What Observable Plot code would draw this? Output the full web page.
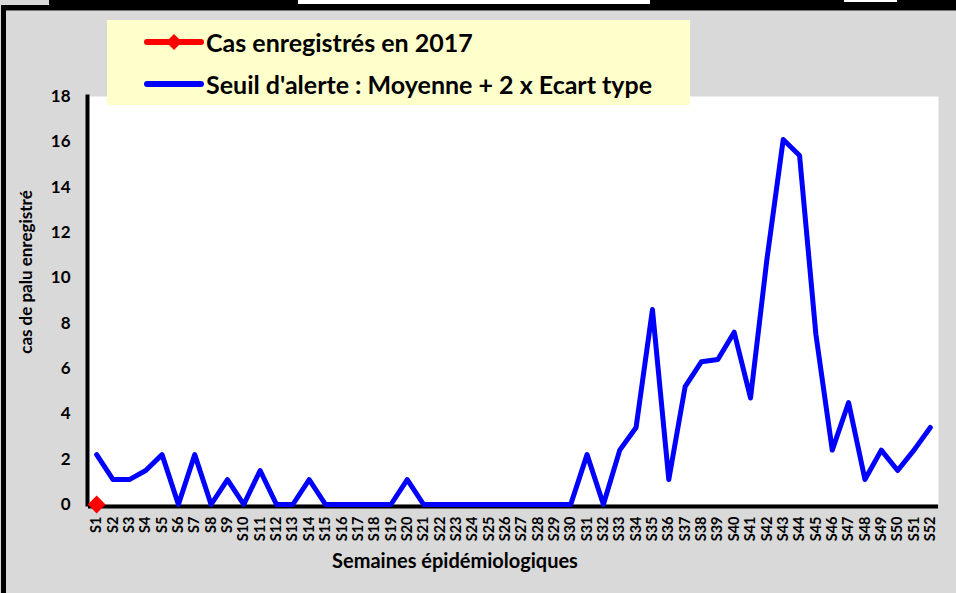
<!DOCTYPE html>
<html>
<head>
<meta charset="utf-8">
<script src="https://cdn.jsdelivr.net/npm/d3@7"></script>
<script src="https://cdn.jsdelivr.net/npm/@observablehq/plot@0.6"></script>
<style>
  html, body { margin: 0; padding: 0; background: #ffffff; }
  #wrap { position: relative; width: 956px; height: 593px; background: #d9d9d9; overflow: hidden; font-family: Lato, "Open Sans", sans-serif; }
  .deco { position: absolute; }
  #chart { position: absolute; left: 0; top: 0; }
  #chart svg { background: transparent; }
  #legend { position: absolute; left: 107px; top: 20px; width: 583px; height: 85px; background: #ffffcc; }
  .leg-item { position: absolute; left: 36px; display: flex; align-items: center; font-weight: bold; font-size: 25px; color: #000; white-space: nowrap; }
  .leg-item svg { margin-right: 1px; }
  #ylabel { position: absolute; left: 25px; top: 272px; transform: translate(-50%, -50%) rotate(-90deg); font-weight: bold; font-size: 17px; white-space: nowrap; color: #000; }
  #xlabel { position: absolute; left: 455px; top: 560px; transform: translate(-50%, -50%); font-weight: bold; font-size: 20px; white-space: nowrap; color: #000; }
</style>
</head>
<body>
<div id="wrap">
  <div class="deco" style="left:49px;top:0;width:907px;height:10px;background:#000;"></div>
  <div class="deco" style="left:1px;top:5px;width:48px;height:5px;background:#000;"></div>
  <div class="deco" style="left:298px;top:0;width:352px;height:4px;background:#fff;"></div>
  <div class="deco" style="left:844px;top:0;width:53px;height:2px;background:#fff;"></div>
  <div class="deco" style="left:6px;top:10px;width:950px;height:1px;background:#777;"></div>
  <div class="deco" style="left:1px;top:5px;width:5px;height:588px;background:#000;"></div>
  <div id="chart"></div>
  <div id="legend">
    <div class="leg-item" style="top:6px;height:32px;">
      <svg width="62" height="20"><line x1="4" y1="10" x2="58" y2="10" stroke="#ff0000" stroke-width="6" stroke-linecap="round"/><path d="M31,2 L39,10 L31,18 L23,10 Z" fill="#ff0000"/></svg>
      <span>Cas enregistrés en 2017</span>
    </div>
    <div class="leg-item" style="top:48px;height:32px;">
      <svg width="62" height="20"><line x1="4" y1="10" x2="58" y2="10" stroke="#0000ff" stroke-width="6" stroke-linecap="round"/></svg>
      <span>Seuil d'alerte : Moyenne + 2 x Ecart type</span>
    </div>
  </div>
  <div id="ylabel">cas de palu enregistré</div>
  <div id="xlabel">Semaines épidémiologiques</div>
</div>
<script>
const weeks = ["S1","S2","S3","S4","S5","S6","S7","S8","S9","S10","S11","S12","S13","S14","S15","S16","S17","S18","S19","S20","S21","S22","S23","S24","S25","S26","S27","S28","S29","S30","S31","S32","S33","S34","S35","S36","S37","S38","S39","S40","S41","S42","S43","S44","S45","S46","S47","S48","S49","S50","S51","S52"];
const seuilAlerte = [2.2,1.1,1.1,1.5,2.2,0,2.2,0,1.1,0,1.5,0,0,1.1,0,0,0,0,0,1.1,0,0,0,0,0,0,0,0,0,0,2.2,0,2.4,3.4,8.6,1.1,5.2,6.3,6.4,7.6,4.7,10.8,16.1,15.4,7.5,2.4,4.5,1.1,2.4,1.5,2.4,3.4];
const casWeeks = ["S1"];
const cas2017 = [0];
const yTicks = [0,2,4,6,8,10,12,14,16,18];

const seuilData = weeks.map((w, i) => ({week: w, value: seuilAlerte[i]}));
const casData = casWeeks.map((w, i) => ({week: w, value: cas2017[i]}));

const chart = Plot.plot({
  width: 956,
  height: 593,
  marginLeft: 88,
  marginRight: 18,
  marginTop: 96,
  marginBottom: 89,
  style: {background: "transparent", fontFamily: "Lato, 'Open Sans', sans-serif", color: "#000"},
  x: {type: "point", domain: weeks, padding: 0.5, round: false},
  y: {domain: [0, 18]},
  marks: [
    Plot.frame({fill: "white", stroke: null}),
    Plot.frame({anchor: "left", stroke: "black", strokeWidth: 4, dx: -1}),
    Plot.ruleY([0], {stroke: "black", strokeWidth: 4, dy: 2}),
    Plot.axisY({ticks: yTicks, tickSize: 0, tickPadding: 18, fontSize: 17, fontWeight: "bold", label: null, tickFormat: d => String(d)}),
    Plot.axisX({tickRotate: -90, tickSize: 0, tickPadding: 12, fontSize: 14.5, fontWeight: "bold", label: null}),
    Plot.line(seuilData, {x: "week", y: "value", stroke: "#0000ff", strokeWidth: 5}),
    Plot.dot(casData, {x: "week", y: "value", symbol: "diamond2", r: 8, fill: "#ff0000", stroke: null})
  ]
});
document.getElementById("chart").appendChild(chart);
</script>
</body>
</html>
